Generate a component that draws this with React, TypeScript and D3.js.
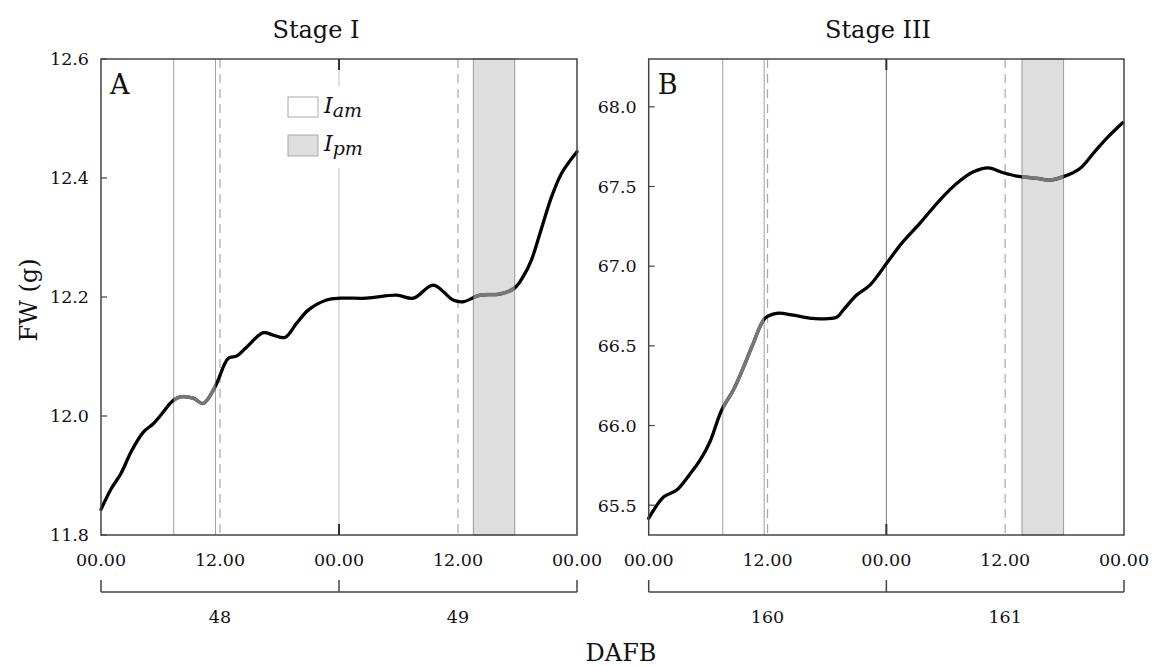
import React from "react";
import * as d3 from "d3";

// hours since 00.00 of the first day, and fresh weight (g)
const hoursA = [0, 1, 2, 3.1, 4.27, 5.27, 6.2, 7.13, 7.97, 9.3, 10.3, 11.5, 12.84, 13.7, 14.7, 16.37, 17.37, 18.55, 19.73, 20.9, 22.75, 24.1, 26.8, 29.8, 31.5, 33.5, 35.5, 36.5, 38.2, 40.2, 41.7, 42.6, 43.4, 44.27, 45.45, 46.45, 48];
const fwA = [11.843, 11.877, 11.903, 11.942, 11.973, 11.987, 12.005, 12.024, 12.032, 12.03, 12.021, 12.049, 12.097, 12.101, 12.116, 12.14, 12.136, 12.132, 12.156, 12.178, 12.195, 12.198, 12.198, 12.203, 12.198, 12.22, 12.195, 12.192, 12.203, 12.205, 12.215, 12.235, 12.262, 12.307, 12.369, 12.408, 12.444];

const hoursB = [0, 1.53, 2.83, 4.1, 5.2, 6.2, 7.37, 8.55, 9.6, 10.56, 11.74, 12.92, 14.6, 16.62, 18.98, 19.65, 21.0, 22.34, 24.03, 25.5, 27.4, 29.4, 31.1, 32.8, 34.3, 35.8, 37.16, 39.2, 40.5, 42.03, 43.55, 44.9, 46.24, 47.86];
const fwB = [65.418, 65.553, 65.595, 65.69, 65.784, 65.9, 66.097, 66.223, 66.37, 66.516, 66.672, 66.704, 66.693, 66.672, 66.679, 66.725, 66.819, 66.881, 67.018, 67.14, 67.27, 67.415, 67.519, 67.592, 67.617, 67.586, 67.565, 67.551, 67.54, 67.565, 67.613, 67.708, 67.802, 67.9];

// I_am and I_pm intervals (hours)
const amA = [7.33, 11.55];
const pmA = [37.55, 41.72];
const amB = [7.48, 11.66];
const pmB = [37.7, 41.9];

const timeTicks = [0, 12, 24, 36, 48];
const timeLabels = ["00.00", "12.00", "00.00", "12.00", "00.00"];
const noonLines = [12, 36];
const ticksA = [11.8, 12.0, 12.2, 12.4, 12.6];
const ticksB = [65.5, 66.0, 66.5, 67.0, 67.5, 68.0];
const daysA = ["48", "49"];
const daysB = ["160", "161"];

const FONT = "DejaVu Serif";
const TOP = 59;
const BOTTOM = 535;

type PanelProps = {
  id: string;
  x0: number;
  x1: number;
  domain: [number, number];
  ticks: number[];
  hours: number[];
  fw: number[];
  am: number[];
  pm: number[];
  days: string[];
  title: string;
  titleX: number;
  letter: string;
  midColor: string;
  legend?: boolean;
};

const Panel = (p: PanelProps) => {
  const x = d3.scaleLinear().domain([0, 48]).range([p.x0, p.x1]);
  const y = d3.scaleLinear().domain(p.domain).range([BOTTOM, TOP]);
  const pts: [number, number][] = p.hours.map((h, i) => [h, p.fw[i]]);
  const line = d3
    .line<[number, number]>()
    .x((d) => x(d[0]))
    .y((d) => y(d[1]))
    .curve(d3.curveCatmullRom);
  const path = line(pts) || "";
  const fmt = d3.format(".1f");
  const bracketY = 592;

  return (
    <g>
      <defs>
        <clipPath id={`grey-${p.id}`}>
          <rect x={x(p.am[0])} y={TOP - 10} width={x(p.am[1]) - x(p.am[0])} height={BOTTOM - TOP + 20} />
          <rect x={x(p.pm[0])} y={TOP - 10} width={x(p.pm[1]) - x(p.pm[0])} height={BOTTOM - TOP + 20} />
        </clipPath>
      </defs>

      {/* I_pm shaded band */}
      <rect x={x(p.pm[0])} y={TOP} width={x(p.pm[1]) - x(p.pm[0])} height={BOTTOM - TOP} fill="#dedede" stroke="#999" strokeWidth={1} />
      {/* I_am borders */}
      {p.am.map((h, i) => (
        <line key={i} x1={x(h)} x2={x(h)} y1={TOP} y2={BOTTOM} stroke="#a0a0a0" strokeWidth={1} />
      ))}
      {/* 12.00 dashed lines */}
      {noonLines.map((h) => (
        <line key={h} x1={x(h)} x2={x(h)} y1={TOP} y2={BOTTOM} stroke="#a8a8a8" strokeWidth={1.2} strokeDasharray="9,6" />
      ))}
      {/* midnight line */}
      <line x1={x(24)} x2={x(24)} y1={TOP} y2={BOTTOM} stroke={p.midColor} strokeWidth={1} />

      {p.legend && (
        <g>
          <rect x={282} y={86} width={80} height={82} fill="#fff" />
          <rect x={288} y={97} width={30} height={20} fill="#fff" stroke="#aaa" strokeWidth={1} />
          <rect x={288} y={135} width={30} height={21} fill="#dedede" stroke="#aaa" strokeWidth={1} />
          <text x={324} y={113} fontFamily={FONT} fontStyle="italic" fontSize={22} fill="#111">
            I<tspan fontSize={19} dy={4}>am</tspan>
          </text>
          <text x={324} y={151} fontFamily={FONT} fontStyle="italic" fontSize={22} fill="#111">
            I<tspan fontSize={19} dy={4}>pm</tspan>
          </text>
        </g>
      )}

      {/* FW curve */}
      <path d={path} fill="none" stroke="#000" strokeWidth={3.3} strokeLinejoin="round" strokeLinecap="round" />
      <path d={path} fill="none" stroke="#777" strokeWidth={3.5} clipPath={`url(#grey-${p.id})`} />

      {/* frame */}
      <rect x={p.x0} y={TOP} width={p.x1 - p.x0} height={BOTTOM - TOP} fill="none" stroke="#444" strokeWidth={1.5} />
      <line x1={x(24)} x2={x(24)} y1={TOP} y2={TOP + 11} stroke="#333" strokeWidth={2} />
      <line x1={x(24)} x2={x(24)} y1={BOTTOM} y2={BOTTOM - 11} stroke="#333" strokeWidth={2} />

      {/* y axis */}
      {p.ticks.map((t) => (
        <g key={t}>
          <line x1={p.x0} x2={p.x0 + 6} y1={y(t)} y2={y(t)} stroke="#444" strokeWidth={1.2} />
          <text x={p.x0 - 12} y={y(t)} dy="0.36em" textAnchor="end" fontFamily={FONT} fontSize={17.5} fill="#111">
            {fmt(t)}
          </text>
        </g>
      ))}

      {/* x axis labels */}
      {timeTicks.map((h, i) => (
        <text key={i} x={x(h)} y={566} textAnchor="middle" fontFamily={FONT} fontSize={17.5} fill="#111">
          {timeLabels[i]}
        </text>
      ))}

      {/* day bracket */}
      <line x1={p.x0} x2={p.x1} y1={bracketY} y2={bracketY} stroke="#444" strokeWidth={1.5} />
      {[0, 24, 48].map((h) => (
        <line key={h} x1={x(h)} x2={x(h)} y1={bracketY - 12} y2={bracketY} stroke="#444" strokeWidth={1.5} />
      ))}
      {p.days.map((d, i) => (
        <text key={d} x={x(12 + 24 * i)} y={623} textAnchor="middle" fontFamily={FONT} fontSize={17.5} fill="#111">
          {d}
        </text>
      ))}

      <text x={p.titleX} y={38} textAnchor="middle" fontFamily={FONT} fontSize={24} fill="#111">
        {p.title}
      </text>
      <text x={p.x0 + 9} y={94} fontFamily={FONT} fontSize={27} fill="#111">
        {p.letter}
      </text>
    </g>
  );
};

export default function App() {
  return (
    <svg width={1152} height={666} style={{ position: "absolute", left: 0, top: 0, background: "#fff" }}>
      <rect width={1152} height={666} fill="#fff" />
      <Panel id="a" x0={101} x1={577} domain={[11.8, 12.6]} ticks={ticksA} hours={hoursA} fw={fwA} am={amA} pm={pmA} days={daysA} title="Stage I" titleX={316} letter="A" midColor="#c0c0c0" legend />
      <Panel id="b" x0={648.7} x1={1124} domain={[65.313, 68.3]} ticks={ticksB} hours={hoursB} fw={fwB} am={amB} pm={pmB} days={daysB} title="Stage III" titleX={878} letter="B" midColor="#777" />
      <text transform="translate(37,300) rotate(-90)" textAnchor="middle" fontFamily={FONT} fontSize={24} fill="#111">
        FW (g)
      </text>
      <text x={621} y={661} textAnchor="middle" fontFamily={FONT} fontSize={24} fill="#111">
        DAFB
      </text>
    </svg>
  );
}
